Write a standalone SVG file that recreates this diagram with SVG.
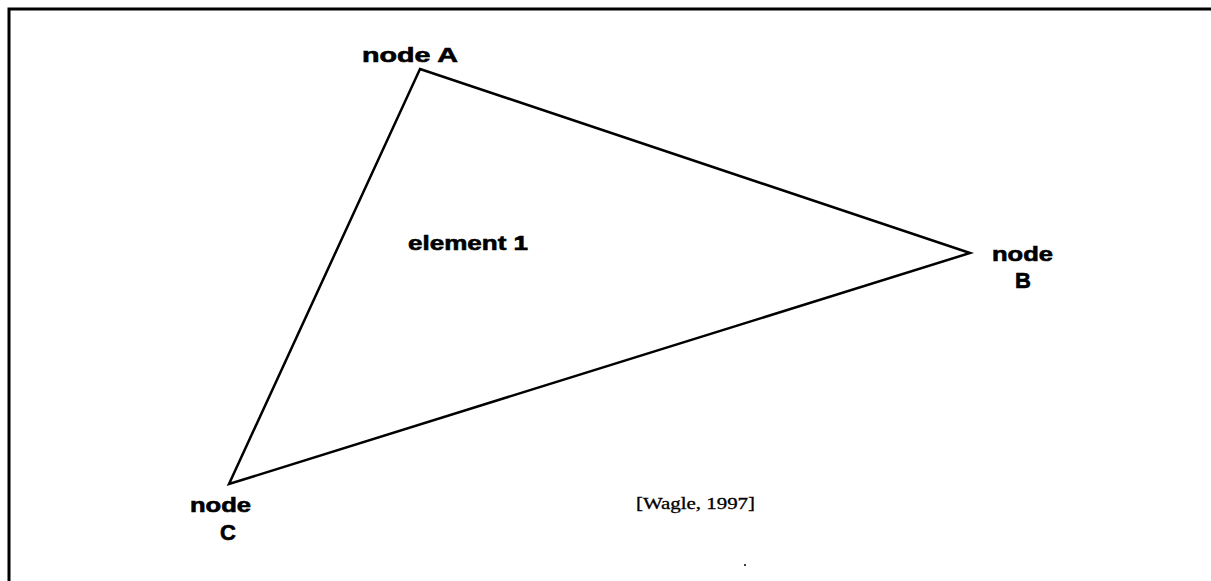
<svg xmlns="http://www.w3.org/2000/svg" width="1211" height="581" viewBox="0 0 1211 581">
<style>
.lbl{font-family:"Liberation Sans",Arial,sans-serif;font-weight:bold;font-size:20px;fill:#000;stroke:#000;stroke-width:0.6}
.big{font-size:22px}
.ref{font-family:"Liberation Serif","Times New Roman",serif;font-size:16px;fill:#000;stroke:#000;stroke-width:0.3}
.edge{stroke:#000;stroke-width:2.5;fill:none;stroke-linejoin:miter}
</style>
<rect width="1211" height="581" fill="#fff"/>
<path d="M9,581 V9 H1211" stroke="#000" stroke-width="3" fill="none"/>
<g id="connectors">
<polygon class="edge" points="420,69 970,253 229,484"/>
</g>
<g id="nodeA"><text class="lbl" x="362" y="62" textLength="96" lengthAdjust="spacingAndGlyphs">node A</text></g>
<g id="nodeB"><text class="lbl" x="992" y="261" textLength="61" lengthAdjust="spacingAndGlyphs">node</text><text class="lbl big" x="1023" y="288" text-anchor="middle">B</text></g>
<g id="nodeC"><text class="lbl" x="190" y="512" textLength="61" lengthAdjust="spacingAndGlyphs">node</text><text class="lbl big" x="228" y="540" text-anchor="middle">C</text></g>
<g id="element1"><text class="lbl" x="408" y="250" textLength="120" lengthAdjust="spacingAndGlyphs">element 1</text></g>
<g id="citation"><text class="ref" x="636" y="509" textLength="119" lengthAdjust="spacingAndGlyphs">[Wagle, 1997]</text></g>
<circle cx="745" cy="565" r="1" fill="#000"/>
</svg>
